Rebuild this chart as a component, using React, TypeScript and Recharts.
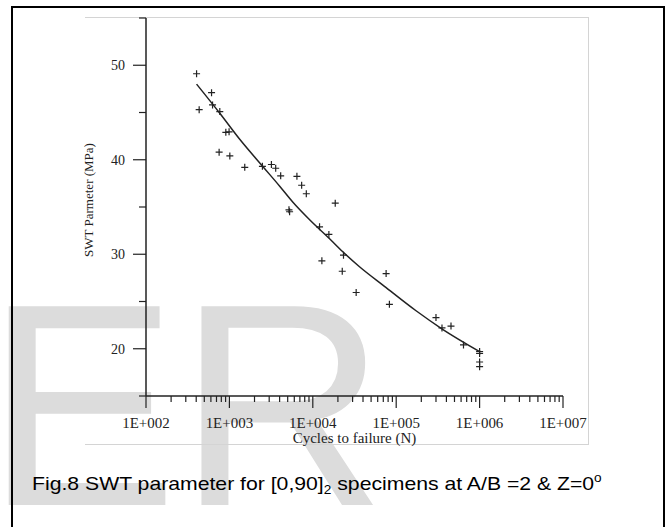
import React from 'react';
import { ComposedChart, Scatter, Line, XAxis, YAxis } from 'recharts';

// test points: cycles to failure and SWT parameter (MPa)
const cycles = [
  404, 434, 611, 628, 767, 906, 991, 753, 1012, 1528, 2488, 3190, 3590, 4120,
  5180, 5270, 6450, 7350, 8360, 18580, 12050, 15590, 23330, 12850, 22550, 33110,
  75700, 82900, 299900, 354000, 454000, 641000, 1000000, 1000000, 1000000, 1000000,
];
const swt = [
  49.1, 45.3, 47.1, 45.8, 45.1, 42.9, 42.95, 40.8, 40.4, 39.2, 39.3, 39.5, 39.1, 38.3,
  34.7, 34.5, 38.25, 37.3, 36.4, 35.4, 32.9, 32.1, 29.9, 29.3, 28.2, 25.95,
  27.95, 24.7, 23.3, 22.2, 22.4, 20.4, 19.7, 19.5, 18.6, 18.1,
];

// fitted curve
const fitCycles = [404, 767, 1330, 2530, 4010, 5780, 9160, 15890, 22900, 36300, 72300, 173000, 360000, 1000000];
const fitSwt = [48.0, 44.92, 42.17, 39.26, 37.2, 35.5, 33.65, 31.64, 30.26, 28.68, 26.61, 24.02, 22.06, 19.7];

const decades = [100, 1000, 10000, 100000, 1000000, 10000000];
const decadeLabels = ['1E+002', '1E+003', '1E+004', '1E+005', '1E+006', '1E+007'];
const yTicks = [15, 20, 25, 30, 35, 40, 45, 50, 55];

const points = cycles.map((n, i) => ({ n, swt: swt[i] }));
const fit = fitCycles.map((n, i) => ({ n, swt: fitSwt[i] }));

const xTicks: number[] = [];
decades.forEach((d, i) => {
  xTicks.push(d);
  if (i < decades.length - 1) {
    for (let k = 2; k <= 9; k++) xTicks.push(d * k);
  }
});

const SERIF = "'Liberation Serif', 'Times New Roman', serif";
const SANS = "'Liberation Sans', Arial, sans-serif";
const INK = '#222';

const XTick = (props: any) => {
  const { x, y, payload } = props;
  const idx = decades.indexOf(payload.value);
  const major = idx >= 0;
  return (
    <g>
      <line x1={x} y1={y} x2={x} y2={y + (major ? 12 : 6)} stroke={INK} strokeWidth={1.2} />
      {major && (
        <text
          transform={`translate(${x},${y + 32}) scale(1.07,1)`}
          textAnchor="middle"
          fontFamily={SERIF}
          fontSize={14}
          fill={INK}
        >
          {decadeLabels[idx]}
        </text>
      )}
    </g>
  );
};

const YTick = (props: any) => {
  const { x, y, payload } = props;
  const major = payload.value % 10 === 0;
  return (
    <g>
      <line x1={x} y1={y} x2={x - (major ? 13 : 7)} y2={y} stroke={INK} strokeWidth={1.2} />
      {major && (
        <text x={x - 21} y={y + 5} textAnchor="end" fontFamily={SERIF} fontSize={14} fill={INK}>
          {payload.value}
        </text>
      )}
    </g>
  );
};

const Plus = (props: any) => {
  const { cx, cy } = props;
  if (cx == null || cy == null) return <g />;
  return (
    <path
      d={`M${cx - 3.5},${cy}H${cx + 3.5}M${cx},${cy - 3.5}V${cy + 3.5}`}
      stroke={INK}
      strokeWidth={1.2}
      fill="none"
    />
  );
};

export default function App() {
  return (
    <div
      style={{
        position: 'absolute',
        left: 0,
        top: 0,
        width: 666,
        height: 527,
        overflow: 'hidden',
        background: '#fff',
      }}
    >
      <svg width={666} height={527} style={{ position: 'absolute', left: 0, top: 0 }}>
        <text x={-15} y={505} fontSize={289} fill="#dcdcdc" fontFamily={SANS}>
          ER
        </text>
      </svg>

      <div
        style={{
          position: 'absolute',
          left: 11,
          top: 6,
          width: 654,
          height: 600,
          boxSizing: 'border-box',
          borderTop: '2px solid #000',
          borderLeft: '2px solid #000',
          borderRight: '2px solid #000',
        }}
      />
      <div
        style={{
          position: 'absolute',
          left: 85,
          top: 17,
          width: 504,
          height: 428,
          boxSizing: 'border-box',
          borderTop: '1px solid #d4d4d4',
          borderRight: '1px solid #d4d4d4',
          borderBottom: '1px solid #d4d4d4',
        }}
      />

      <div style={{ position: 'absolute', left: 0, top: 0 }}>
        <ComposedChart width={666} height={460} margin={{ top: 18, right: 103, bottom: 0, left: 0 }}>
          <XAxis
            dataKey="n"
            type="number"
            scale="log"
            domain={[100, 10000000]}
            allowDataOverflow
            ticks={xTicks}
            interval={0}
            height={64}
            tickSize={0}
            tickMargin={0}
            tickLine={false}
            axisLine={{ stroke: INK, strokeWidth: 1.5 }}
            tick={<XTick />}
            label={{
              value: 'Cycles to failure (N)',
              position: 'insideBottom',
              offset: 17,
              fontFamily: SERIF,
              fontSize: 15,
              fill: INK,
            }}
          />
          <YAxis
            type="number"
            domain={[15, 55]}
            allowDataOverflow
            ticks={yTicks}
            interval={0}
            width={146}
            tickSize={0}
            tickMargin={0}
            tickLine={false}
            axisLine={{ stroke: INK, strokeWidth: 1.5 }}
            tick={<YTick />}
          />
          <Scatter data={points} dataKey="swt" shape={<Plus />} isAnimationActive={false} />
          <Line
            data={fit}
            dataKey="swt"
            type="monotone"
            dot={false}
            activeDot={false}
            stroke={INK}
            strokeWidth={1.5}
            isAnimationActive={false}
          />
        </ComposedChart>
      </div>

      <svg width={666} height={527} style={{ position: 'absolute', left: 0, top: 0, pointerEvents: 'none' }}>
        <text
          transform="translate(93,200) rotate(-90)"
          textAnchor="middle"
          fontFamily={SERIF}
          fontSize={13}
          fill={INK}
        >
          SWT Parmeter (MPa)
        </text>
        <text transform="translate(32,490) scale(1.14,1)" fontFamily={SANS} fontSize={18.6} fill="#000">
          Fig.8 SWT parameter for [0,90]
          <tspan fontSize={12} dy={4}>2</tspan>
          <tspan dy={-4}>{' specimens at A/B =2 & Z=0'}</tspan>
          <tspan fontSize={12} dy={-8}>o</tspan>
        </text>
      </svg>
    </div>
  );
}
